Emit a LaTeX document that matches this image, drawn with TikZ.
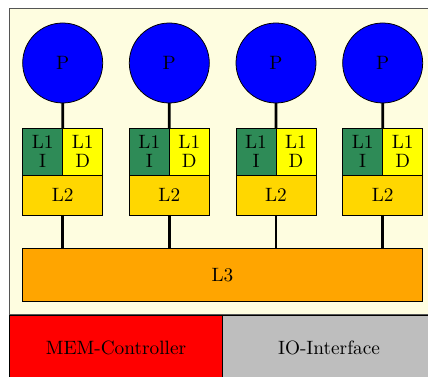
\documentclass[tikz,border=0pt]{standalone}
\usetikzlibrary{calc}
\definecolor{chipbg}{HTML}{FEFDE0}
\definecolor{chipframe}{HTML}{555555}
\definecolor{licache}{HTML}{2E8B57}
\definecolor{ldcache}{HTML}{FFFF00}
\definecolor{ltwo}{HTML}{FFD700}
\definecolor{lthree}{HTML}{FFA500}
\definecolor{memctl}{HTML}{FF0000}
\definecolor{iobox}{HTML}{BEBEBE}
\tikzset{
  proc/.style={circle, draw=black, fill=blue, minimum size=41.48pt, inner sep=0pt, outer sep=0pt},
  cachebox/.style={rectangle, draw=black, inner sep=0pt, outer sep=0pt, align=center},
  lione/.style={cachebox, fill=licache, minimum width=20.74pt, minimum height=24.2pt},
  ldone/.style={cachebox, fill=ldcache, minimum width=20.74pt, minimum height=24.2pt},
  ltwobox/.style={cachebox, fill=ltwo, minimum width=41.48pt, minimum height=20.74pt},
  lthreebox/.style={cachebox, fill=lthree, minimum width=207.2pt, minimum height=27.7pt},
  unitbox/.style={rectangle, draw=black, inner sep=0pt, outer sep=0pt, minimum height=34.2pt},
  link/.style={draw=black, line width=1.5pt}
}
\begin{document}
\begin{tikzpicture}[x=0.5185pt, y=-0.5185pt]
  \useasboundingbox (0,0) rectangle (428,377);
  \clip (0,0) rectangle (428,377);
  % chip frame
  \draw[chipframe, fill=chipbg, line width=0.6pt] (9.7,8.5) rectangle (436,315);
  % shared L3
  \node[lthreebox] (l3) at (222.5,275) {L3};
  % four cores
  \foreach \i/\x in {1/62.7, 2/169.3, 3/276, 4/382.7} {
    \node[proc] (p\i) at (\x,63) {P};
    \node[lione] (li\i) at ({\x-20},151.7) {L1\\[-2pt]I};
    \node[ldone] (ld\i) at ({\x+20},151.7) {L1\\[-2pt]D};
    \node[ltwobox] (lt\i) at (\x,195) {L2};
    \draw[link] (p\i.south) -- (li\i.north east);
    \draw[link] (lt\i.south) -- (lt\i.south |- l3.north);
  }
  % memory controller and IO
  \node[unitbox, fill=memctl, minimum width=110.2pt] (mem) at (116,348) {MEM-Controller};
  \node[unitbox, fill=iobox, minimum width=110.6pt] (io) at (329,348) {IO-Interface};
\end{tikzpicture}
\end{document}
